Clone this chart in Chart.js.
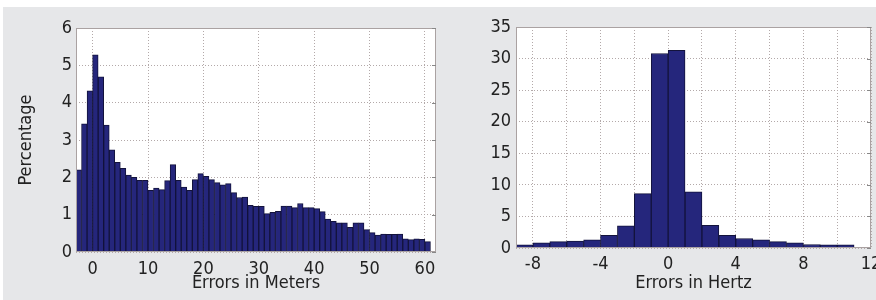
<!DOCTYPE html>
<html>
<head>
<meta charset="utf-8">
<script src="https://cdn.jsdelivr.net/npm/chart.js@4.4.1/dist/chart.umd.min.js"></script>
<style>
  html, body { margin:0; padding:0; background:#fff; width:876px; height:300px; overflow:hidden; }
  #fundo { position:absolute; left:3px; top:7px; width:873px; height:293px; background:#e6e7e9; }
  #esq { position:absolute; left:0; top:0; }
  #dir { position:absolute; left:455px; top:0; }
</style>
</head>
<body>
<div id="fundo"></div>
<canvas id="esq" width="455" height="300"></canvas>
<canvas id="dir" width="445" height="300"></canvas>
<script>
// limite inferior de cada classe (largura 1)
const classesMetros = [-3,-2,-1,0,1,2,3,4,5,6,7,8,9,10,11,12,13,14,15,16,17,18,19,20,21,22,23,24,25,26,27,28,
  29,30,31,32,33,34,35,36,37,38,39,40,41,42,43,44,45,46,47,48,49,50,51,52,53,54,55,56,57,58,59,60]
const percMetros = [2.2,3.43,4.32,5.28,4.69,3.4,2.74,2.4,2.24,2.06,2.0,1.92,1.92,1.65,1.71,1.67,1.91,2.34,1.92,1.74,
  1.65,1.94,2.1,2.03,1.94,1.86,1.8,1.83,1.59,1.46,1.47,1.25,1.22,1.22,1.03,1.06,1.09,1.23,1.23,1.19,1.3,1.19,1.19,
  1.16,1.08,0.88,0.82,0.78,0.78,0.66,0.78,0.78,0.6,0.52,0.45,0.48,0.47,0.47,0.48,0.35,0.33,0.35,0.34,0.28]
const ticksXMetros = [0,10,20,30,40,50,60]
const ticksYMetros = [0,1,2,3,4,5,6]

const classesHertz = [-9,-8,-7,-6,-5,-4,-3,-2,-1,0,1,2,3,4,5,6,7,8,9,10]
const percHertz = [0.5,0.8,1.0,1.1,1.3,2.0,3.5,8.6,30.8,31.3,8.9,3.6,2.0,1.5,1.3,1.0,0.8,0.55,0.5,0.5]
const ticksXHertz = [-8,-6,-4,-2,0,2,4,6,8,10,12]
const rotulosXHertz = [-8,-4,0,4,8,12]
const ticksYHertz = [0,5,10,15,20,25,30,35]

const fonte = "'DejaVu Sans Condensed', 'Liberation Sans Narrow', sans-serif"
const corTexto = '#222'
const corBarra = '#25267c'
const corBordaBarra = '#13133c'
const corGrade = '#b3a9a9'
const corMoldura = '#aaa2a2'

Chart.defaults.font.family = fonte
Chart.defaults.color = corTexto
Chart.defaults.animation = false

// fundo branco da area do grafico + moldura tipo matlab
const moldura = {
    id: 'moldura',
    beforeDraw(chart) {
        const a = chart.chartArea, ctx = chart.ctx
        ctx.save()
        ctx.fillStyle = '#fff'
        ctx.fillRect(a.left, a.top, a.right - a.left, a.bottom - a.top)
        ctx.restore()
    },
    afterDraw(chart) {
        const a = chart.chartArea, ctx = chart.ctx
        ctx.save()
        ctx.strokeStyle = corMoldura
        ctx.lineWidth = 1
        ctx.strokeRect(a.left + 0.5, a.top + 0.5, a.right - a.left - 1, a.bottom - a.top - 1)
        // marquinhas na direita
        ctx.strokeStyle = '#888'
        chart.scales.y.ticks.forEach(t => {
            const y = Math.round(chart.scales.y.getPixelForValue(t.value)) + 0.5
            ctx.beginPath(); ctx.moveTo(a.right - 4, y); ctx.lineTo(a.right, y); ctx.stroke()
        })
        ctx.restore()
    }
}

function pontos(classes, valores) {
    return classes.map((c, i) => ({ x: c + 0.5, y: valores[i] }))
}

function criarGrafico(id, dados, cfg) {
    const ctx = document.getElementById(id).getContext('2d')
    return new Chart(ctx, {
        type: 'bar',
        data: {
            datasets: [{
                data: dados,
                backgroundColor: corBarra,
                borderColor: corBordaBarra,
                borderWidth: 1,
                barPercentage: 1,
                categoryPercentage: 1
            }]
        },
        options: {
            responsive: false,
            layout: { padding: cfg.padding },
            plugins: { legend: { display: false }, tooltip: { enabled: false } },
            scales: {
                x: {
                    type: 'linear',
                    min: cfg.xMin, max: cfg.xMax,
                    offset: false,
                    afterBuildTicks: ax => { ax.ticks = cfg.ticksX.map(v => ({ value: v })) },
                    afterFit: ax => { ax.height = cfg.alturaX },
                    grid: { color: corGrade, drawTicks: false, offset: false },
                    border: { display: false, dash: [1, 2] },
                    ticks: {
                        padding: cfg.padX,
                        maxRotation: 0,
                        autoSkip: false,
                        font: { size: 18 },
                        callback: v => cfg.rotulosX.includes(v) ? String(v) : ''
                    },
                    title: { display: true, text: cfg.tituloX, font: { size: 18 }, padding: { top: 0, bottom: 6 } }
                },
                y: {
                    min: 0, max: cfg.yMax,
                    afterBuildTicks: ax => { ax.ticks = cfg.ticksY.map(v => ({ value: v })) },
                    afterFit: ax => { ax.width = cfg.larguraY },
                    grid: { color: corGrade, drawTicks: false },
                    border: { display: false, dash: [1, 2] },
                    ticks: { padding: cfg.padY, font: { size: 18 } },
                    title: { display: !!cfg.tituloY, text: cfg.tituloY, font: { size: 18 }, padding: { top: 16, bottom: 0 } }
                }
            }
        },
        plugins: [moldura]
    })
}

criarGrafico('esq', pontos(classesMetros, percMetros), {
    padding: { top: 28, right: 19, bottom: 0, left: 0 },
    xMin: -3, xMax: 62, ticksX: ticksXMetros, rotulosX: ticksXMetros,
    yMax: 6, ticksY: ticksYMetros,
    alturaX: 48, larguraY: 76, padX: 7, padY: 4,
    tituloX: 'Errors in Meters', tituloY: 'Percentage'
})

criarGrafico('dir', pontos(classesHertz, percHertz), {
    padding: { top: 27, right: 29, bottom: 0, left: 0 },
    xMin: -9, xMax: 12, ticksX: ticksXHertz, rotulosX: rotulosXHertz,
    yMax: 35, ticksY: ticksYHertz,
    alturaX: 52, larguraY: 61, padX: 6, padY: 5,
    tituloX: 'Errors in Hertz', tituloY: ''
})
</script>
</body>
</html>
